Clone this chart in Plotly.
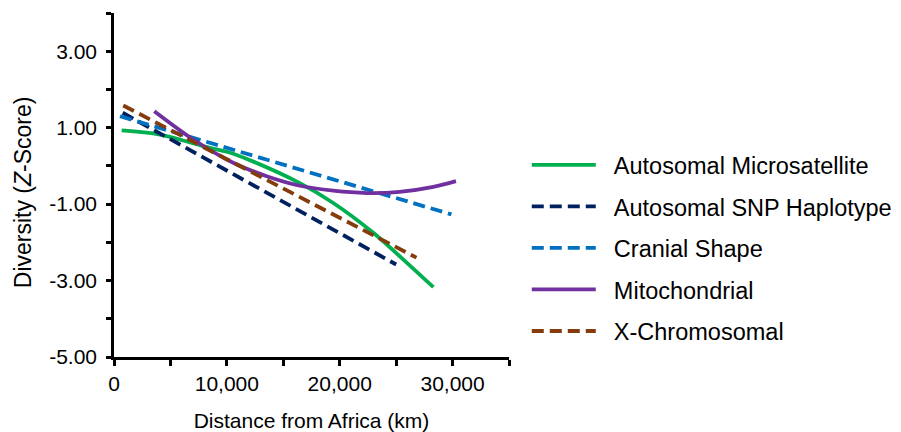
import plotly.graph_objects as go

# ---- data ----
ms_x = [680, 4070, 8500, 10000, 12050, 16470, 19430, 22970, 27400, 28300]
ms_y = [0.93, 0.82, 0.47, 0.37, 0.15, -0.45, -0.97, -1.75, -2.93, -3.17]

snp_x = [770, 25000]
snp_y = [1.39, -2.58]

cran_x = [530, 29900]
cran_y = [1.30, -1.27]

mito_x = [3570, 7020, 10560, 13530, 16470, 19430, 22400, 25300, 28300, 30300]
mito_y = [1.43, 0.69, 0.08, -0.27, -0.52, -0.65, -0.71, -0.68, -0.55, -0.40]

xchr_x = [820, 26800]
xchr_y = [1.58, -2.40]

series_names = ["Autosomal Microsatellite", "Autosomal SNP Haplotype",
                "Cranial Shape", "Mitochondrial", "X-Chromosomal"]

x_tickvals = [0, 10000, 20000, 30000]
x_ticktext = ["0", "10,000", "20,000", "30,000"]
x_minor = [5000, 15000, 25000, 35000]
y_tickvals = [-5, -3, -1, 1, 3]
y_ticktext = ["-5.00", "-3.00", "-1.00", "1.00", "3.00"]
y_minor = [-4, -2, 0, 2, 4]

FONT = "Liberation Sans, Arial, sans-serif"
LW = 3.8
DASH = "12px,6px"
NB = "\u00a0\u00a0"  # spacing between legend symbol and label

fig = go.Figure()
specs = [
    (ms_x, ms_y, "#00B050", "solid", "spline"),
    (snp_x, snp_y, "#002060", DASH, "linear"),
    (cran_x, cran_y, "#0070C0", DASH, "linear"),
    (mito_x, mito_y, "#7030A0", "solid", "spline"),
    (xchr_x, xchr_y, "#843C0C", DASH, "linear"),
]
for name, (xs, ys, col, dash, shape) in zip(series_names, specs):
    fig.add_trace(go.Scatter(
        x=xs, y=ys, mode="lines", name=NB + name, legendgroup=name,
        line=dict(color=col, width=LW, dash=dash, shape=shape, smoothing=0.9),
    ))

# page body adds an 8px margin, so the figure is 8px smaller than the window
fig.update_layout(
    width=893, height=424,
    margin=dict(l=106, r=392, t=5, b=75, autoexpand=False),
    paper_bgcolor="white", plot_bgcolor="white",
    font=dict(family=FONT, size=21, color="black"),
    showlegend=True,
    legend=dict(x=1.045, xanchor="left", y=0.622, yanchor="top",
                font=dict(family=FONT, size=23.5, color="black"),
                itemwidth=64, tracegroupgap=8, bgcolor="rgba(0,0,0,0)"),
    xaxis=dict(
        range=[0, 35000], tickvals=x_tickvals, ticktext=x_ticktext,
        ticks="outside", ticklen=6, tickwidth=2.5, tickcolor="black",
        minor=dict(tickvals=x_minor, ticks="outside", ticklen=6, tickwidth=2.5, tickcolor="black"),
        showline=True, linewidth=2.5, linecolor="black",
        showgrid=False, zeroline=False, automargin=False,
        tickfont=dict(family=FONT, size=21, color="black"),
        title=dict(text="Distance from Africa (km)", standoff=23,
                   font=dict(family=FONT, size=21, color="black")),
    ),
    yaxis=dict(
        range=[-5, 4], tickvals=y_tickvals, ticktext=y_ticktext,
        ticks="outside", ticklen=5, tickwidth=2.5, tickcolor="black",
        minor=dict(tickvals=y_minor, ticks="outside", ticklen=5, tickwidth=2.5, tickcolor="black"),
        showline=True, linewidth=2.5, linecolor="black",
        showgrid=False, zeroline=False, automargin=False,
        ticklabelstandoff=5,
        tickfont=dict(family=FONT, size=21, color="black"),
    ),
    annotations=[dict(
        text="Diversity (<i>Z</i>-Score)", textangle=-90,
        xref="paper", yref="paper", x=0, y=0.479, xshift=-91,
        xanchor="center", yanchor="middle", showarrow=False,
        font=dict(family=FONT, size=23, color="black"),
    )],
)

fig.write_html("out.html")
